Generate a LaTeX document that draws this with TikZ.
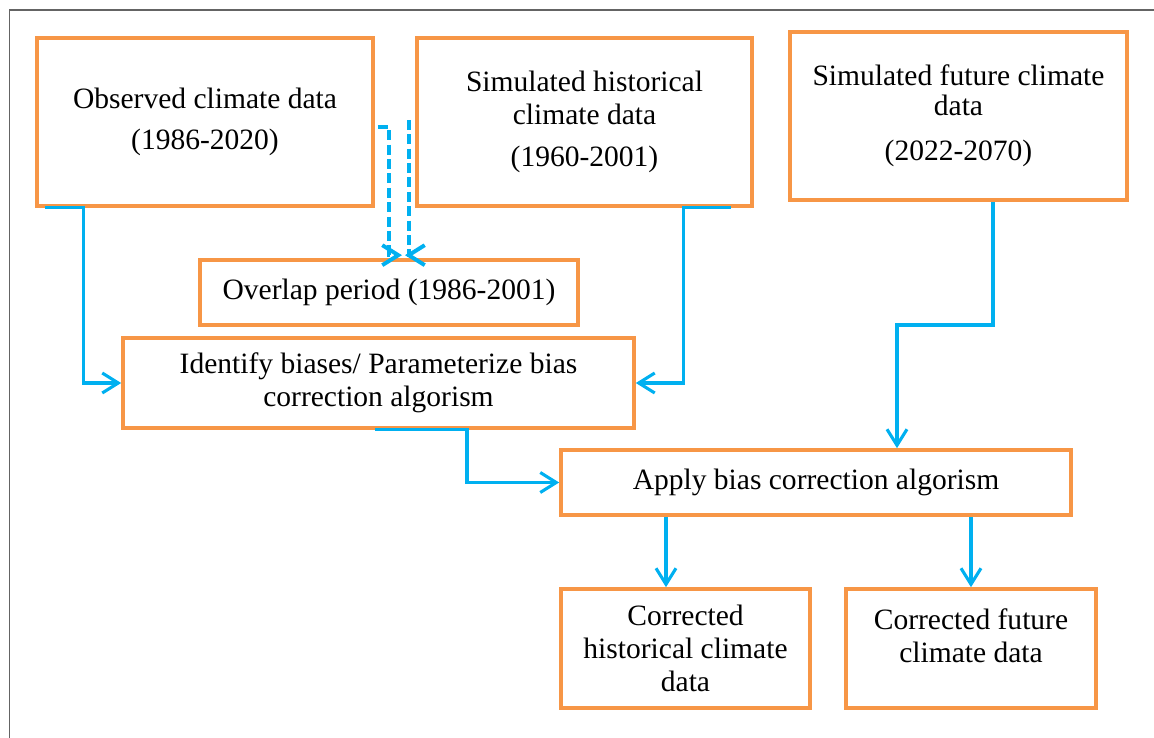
\documentclass[tikz,border=0pt]{standalone}
\usepackage{fontspec}
\setmainfont{Liberation Serif}
\usepackage{tikz}
\usetikzlibrary{positioning}
\usetikzlibrary{calc}
\usetikzlibrary{arrows.meta}
\definecolor{boxorange}{RGB}{247,150,70}
\definecolor{flowblue}{RGB}{0,176,240}
\definecolor{framegray}{RGB}{100,100,100}
\tikzset{box/.style={draw=boxorange,line width=2.6pt,align=center,inner sep=0pt,font=\fontsize{21}{23.5}\selectfont},
flow/.style={draw=flowblue,line width=2.2pt,-{Straight Barb[length=0.4cm,width=0.5cm]}},
dflow/.style={flow,line width=2.8pt,dash pattern=on 0.25cm off 0.11cm}}

\begin{document}
\begin{tikzpicture}
\useasboundingbox (0,0) rectangle (28.85,-18.45);
\draw[framegray,line width=1.4pt] (0.2375,-18.45) -- (0.2375,-0.25) -- (28.85,-0.25);

\node (obs) [box, minimum width=8.4cm, minimum height=4.2cm] at (5.125,-3.05) {Observed climate data\\[6pt](1986-2020)};
\node (simh) [box, minimum width=8.375cm, minimum height=4.2cm] at (14.6125,-3.05) {Simulated historical\\climate data\\[6pt](1960-2001)};
\node (simf) [box, minimum width=8.425cm, minimum height=4.2cm] at (23.9625,-2.9) {Simulated future climate\\[-2pt]data\\[8.5pt](2022-2070)};
\node (ovl) [box, minimum width=9.45cm, minimum height=1.625cm] at (9.725,-7.3125) {Overlap period (1986-2001)};
\node (ident) [box, minimum width=12.775cm, minimum height=2.25cm] at (9.4625,-9.575) {Identify biases/ Parameterize bias\\correction algorism};
\node (apply) [box, minimum width=12.75cm, minimum height=1.625cm] at (20.4,-12.0625) {Apply bias correction algorism};
\node (corh) [box, minimum width=6.225cm, minimum height=2.975cm] at (17.1375,-16.2125) {Corrected\\historical climate\\data};
\node (corf) [box, minimum width=6.25cm, minimum height=2.975cm, text depth=0.65cm] at (24.275,-16.2125) {Corrected future\\climate data};

\draw[flow] ([xshift=0.25cm]obs.south west) -- ([xshift=1.2cm]obs.south west) |- (ident.west);
\draw[flow] ([xshift=-0.575cm]simh.south east) -- ([xshift=-1.75cm]simh.south east) |- (ident.east);
\draw[dflow] ([xshift=0.075cm,yshift=-0.125cm]obs.east) -| ([yshift=0.075cm]ovl.north) -- ++(0.325,0);
\draw[dflow] ([xshift=-0.1cm]simh.west) -| ([xshift=0.5cm,yshift=0.075cm]ovl.north) -- ++(-0.1,0);
\draw[flow] ([xshift=-0.0875cm]ident.south) -- ([xshift=2.2125cm]ident.south) |- (apply.west);
\coordinate (fstart) at ([xshift=0.8625cm]simf.south);
\coordinate (fdrop) at ([xshift=2.025cm]apply.north);
\draw[flow] (fstart) |- ($(fstart)!0.5!(fdrop)$) -| (fdrop);
\coordinate (hdrop) at ([xshift=-0.4875cm]corh.north);
\draw[flow] (hdrop |- apply.south) -- (hdrop);
\draw[flow] (corf.north |- apply.south) -- (corf.north);
\end{tikzpicture}
\end{document}
